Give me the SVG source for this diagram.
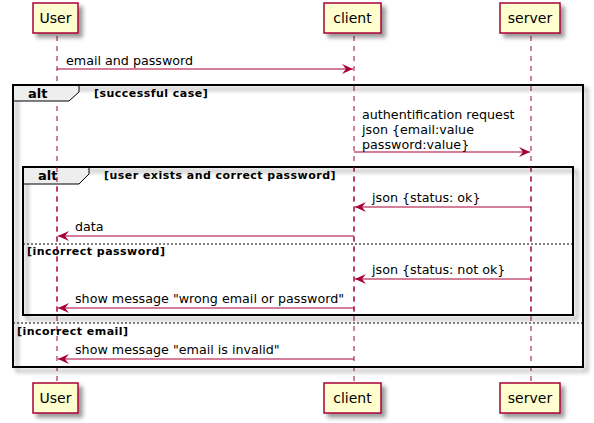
<svg xmlns="http://www.w3.org/2000/svg" width="594" height="423" viewBox="0 0 594 423">
<defs>
<filter id="sh" x="-1" y="-1" width="300%" height="300%">
<feGaussianBlur result="b" stdDeviation="2"/>
<feColorMatrix in="b" result="c" type="matrix" values="0 0 0 0 0 0 0 0 0 0 0 0 0 0 0 0 0 0 .4 0"/>
<feOffset dx="4" dy="4" in="c" result="o"/>
<feBlend in="SourceGraphic" in2="o" mode="normal"/>
</filter>
<marker id="ah" viewBox="0 0 11 10" refX="11" refY="5" markerWidth="11" markerHeight="10" markerUnits="userSpaceOnUse" orient="auto">
<polygon points="0,0 11,5 0,10 4,5" fill="#A80036"/>
</marker>
</defs>
<style>
.life{stroke:#A80036;stroke-width:1;stroke-dasharray:5,5;fill:none}
.part{fill:#FEFECE;stroke:#A80036;stroke-width:1.5}
.pt{font-family:"DejaVu Sans",sans-serif;font-size:14px;fill:#000;text-anchor:middle}
.msg{stroke:#A80036;stroke-width:1.2;fill:none;marker-end:url(#ah)}
.mt{font-family:"DejaVu Sans",sans-serif;font-size:12.7px;fill:#000}
.frame{fill:none;stroke:#000;stroke-width:2}
.tab{fill:#EEEEEE;stroke:#000;stroke-width:1}
.at{font-family:"DejaVu Sans",sans-serif;font-size:13px;font-weight:bold;fill:#000}
.gt{font-family:"DejaVu Sans",sans-serif;font-size:11px;font-weight:bold;fill:#000;letter-spacing:0.47px}
.sep{stroke:#000;stroke-width:1;stroke-dasharray:2,2}
</style>
<g id="lifelines">
<line class="life" x1="57" y1="36" x2="57" y2="383"/>
<line class="life" x1="354" y1="36" x2="354" y2="383"/>
<line class="life" x1="531" y1="36" x2="531" y2="383"/>
</g>
<g id="alt-outer">
<rect class="frame" x="13" y="85" width="570" height="282" filter="url(#sh)" fill="none"/>
<polygon class="tab" points="13,85 79,85 79,92 69,101 13,101"/>
<rect x="13" y="85" width="570" height="282" class="frame"/>
<text class="at" x="28" y="98">alt</text>
<text class="gt" x="94" y="97">[successful case]</text>
<line class="sep" x1="13" y1="323" x2="583" y2="323"/>
<text class="gt" x="17" y="335">[incorrect email]</text>
</g>
<g id="alt-inner">
<rect class="frame" x="23" y="167" width="550" height="148" filter="url(#sh)" fill="#fff"/>
<polygon class="tab" points="23,167 89,167 89,174 79,184 23,184"/>
<rect class="frame" x="23" y="167" width="550" height="148"/>
<text class="at" x="38" y="180">alt</text>
<text class="gt" x="104" y="179">[user exists and correct password]</text>
<line class="sep" x1="23" y1="244" x2="573" y2="244"/>
<text class="gt" x="27" y="255">[incorrect password]</text>
</g>
<g id="lifelines-inner">
<line class="life" x1="57" y1="167" x2="57" y2="315"/>
<line class="life" x1="354" y1="167" x2="354" y2="315"/>
<line class="life" x1="531" y1="167" x2="531" y2="315"/>
</g>
<g id="User-top"><rect class="part" x="33" y="3" width="45" height="30" filter="url(#sh)"/><text class="pt" x="55.5" y="23">User</text></g>
<g id="client-top"><rect class="part" x="324" y="3" width="57" height="30" filter="url(#sh)"/><text class="pt" x="352.5" y="23">client</text></g>
<g id="server-top"><rect class="part" x="500" y="3" width="60" height="30" filter="url(#sh)"/><text class="pt" x="530" y="23">server</text></g>
<g id="User-bottom"><rect class="part" x="33" y="383" width="45" height="30" filter="url(#sh)"/><text class="pt" x="55.5" y="403">User</text></g>
<g id="client-bottom"><rect class="part" x="324" y="383" width="57" height="30" filter="url(#sh)"/><text class="pt" x="352.5" y="403">client</text></g>
<g id="server-bottom"><rect class="part" x="500" y="383" width="60" height="30" filter="url(#sh)"/><text class="pt" x="530" y="403">server</text></g>
<g id="connectors">
<line class="msg" x1="57" y1="69" x2="353" y2="69"/>
<text class="mt" x="66" y="65">email and password</text>
<line class="msg" x1="354" y1="152" x2="530" y2="152"/>
<text class="mt" x="362" y="119">authentification request</text>
<text class="mt" x="362" y="134">json {email:value</text>
<text class="mt" x="362" y="149">password:value}</text>
<line class="msg" x1="531" y1="207" x2="355" y2="207"/>
<text class="mt" x="372" y="202">json {status: ok}</text>
<line class="msg" x1="354" y1="236" x2="58" y2="236"/>
<text class="mt" x="75" y="231">data</text>
<line class="msg" x1="531" y1="279" x2="355" y2="279"/>
<text class="mt" x="372" y="274">json {status: not ok}</text>
<line class="msg" x1="354" y1="308" x2="58" y2="308"/>
<text class="mt" x="75" y="303">show message "wrong email or password"</text>
<line class="msg" x1="354" y1="359" x2="58" y2="359"/>
<text class="mt" x="75" y="354">show message "email is invalid"</text>
</g>
</svg>
